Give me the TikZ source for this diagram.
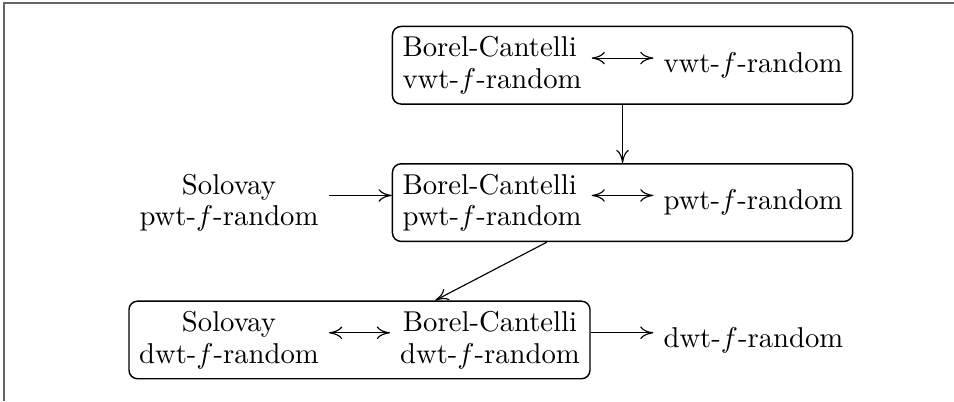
\documentclass[tikz,border=0pt]{standalone}
\usetikzlibrary{fit,arrows.meta}
\tikzset{
	stmt/.style={align=#1},
	stmt/.default=left,
	grp/.style={draw, line width=0.5pt, rounded corners=3pt, inner sep=0pt, fit=#1},
	tip/.tip={To[length=4.6pt,width=4.4pt]},
	imp/.style={-tip},
	eqv/.style={tip-tip},
}
\begin{document}
\begin{tikzpicture}
			%%%%% START %%%%%
			\useasboundingbox (0,0) rectangle (11.69,4.914);
			\draw[line width=0.6pt, color=black!60] (0.049,0) -- (0.049,4.881) -- (11.69,4.881);
			
			% vwt row
			\node[stmt, anchor=west] (bcv) at (4.809,4.114) {Borel-Cantelli\\[-1pt]vwt-$f$-random};
			\node[anchor=west] (vwt) at (8.007,4.114) {vwt-$f$-random};
			\node[grp={(bcv)(vwt)}] (rowv) {};
			\draw[eqv] ([yshift=2.5pt]bcv.east) -- ([yshift=2.5pt]bcv.east -| vwt.west);
			
			% pwt row
			\node[stmt=center] (solp) at (2.806,2.431) {Solovay\\[-1pt]pwt-$f$-random};
			\node[stmt, anchor=west] (bcp) at (4.809,2.431) {Borel-Cantelli\\[-1pt]pwt-$f$-random};
			\node[anchor=west] (pwt) at (8.007,2.431) {pwt-$f$-random};
			\node[grp={(bcp)(pwt)}] (rowp) {};
			\draw[eqv] ([yshift=2.5pt]bcp.east) -- ([yshift=2.5pt]bcp.east -| pwt.west);
			\draw[imp] ([yshift=2.5pt]solp.east) -- ([yshift=2.5pt]solp.east -| rowp.west);
			
			% dwt row
			\node[stmt=center] (sold) at (2.806,0.748) {Solovay\\[-1pt]dwt-$f$-random};
			\node[stmt=center] (bcd) at (6.004,0.748) {Borel-Cantelli\\[-1pt]dwt-$f$-random};
			\node[anchor=west] (dwt) at (8.007,0.748) {dwt-$f$-random};
			\node[grp={(sold)(bcd)}] (rowd) {};
			\draw[eqv] ([yshift=2.5pt]sold.east) -- ([yshift=2.5pt]sold.east -| bcd.west);
			\draw[imp] ([yshift=2.5pt]rowd.east) -- ([yshift=2.5pt]rowd.east -| dwt.west);
			
			% between the rows
			\draw[imp] (rowv) -- (rowp);
			\draw[imp] (rowp) -- (rowd);
			%%%%% END %%%%%
\end{tikzpicture}
\end{document}
